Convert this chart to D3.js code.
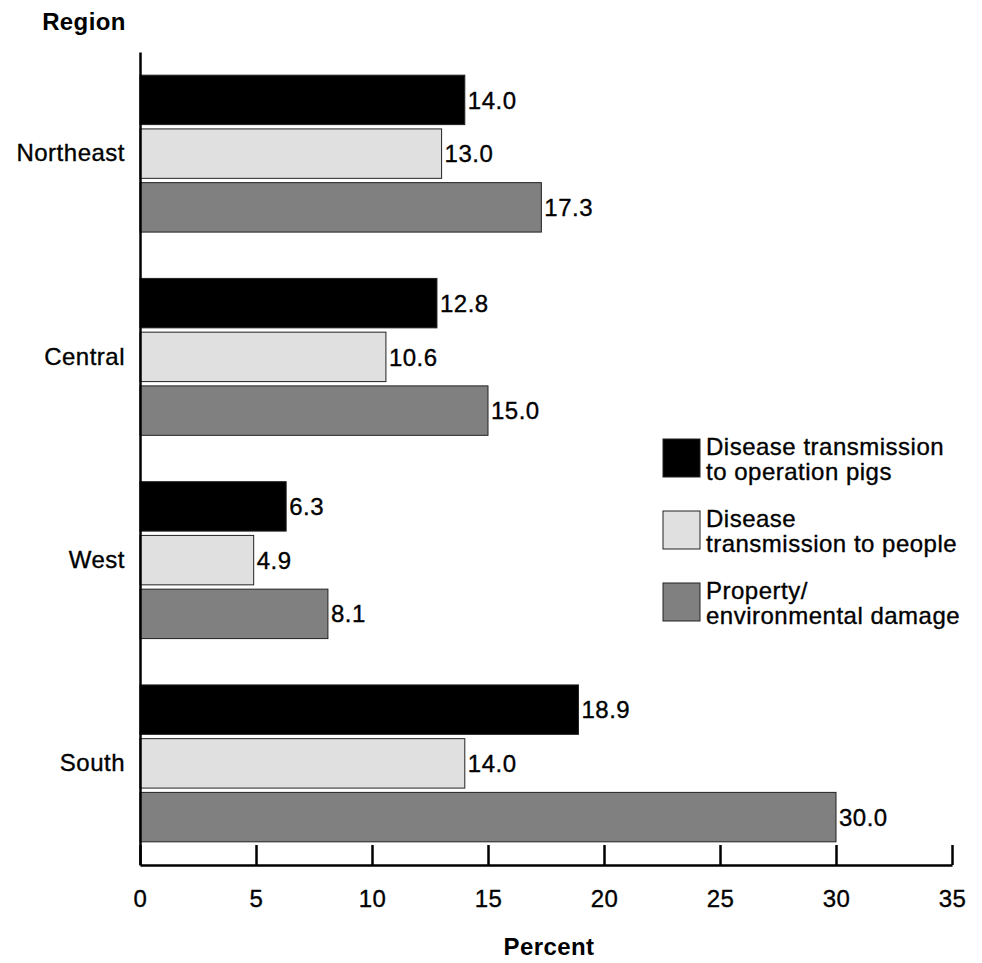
<!DOCTYPE html>
<html>
<head>
<meta charset="utf-8">
<script src="https://cdn.jsdelivr.net/npm/d3@7/dist/d3.min.js"></script>
<style>
  html, body { margin: 0; padding: 0; background: #fff; }
  svg { display: block; font-family: "Liberation Sans", Arial, sans-serif; }
  .lbl { font-size: 24px; letter-spacing: 0.5px; fill: #000; stroke: #000; stroke-width: 0.35px; }
  .title { font-size: 24px; font-weight: bold; letter-spacing: 0.4px; fill: #000; }
</style>
</head>
<body>
<svg id="chart" width="982" height="963"></svg>
<script>
// Regions and the share of operations (percent) reporting each concern
const regions = ["Northeast", "Central", "West", "South"];
const seriesNames = ["Disease transmission to operation pigs", "Disease transmission to people", "Property/ environmental damage"];
const seriesLegendLines = [
  ["Disease transmission", "to operation pigs"],
  ["Disease", "transmission to people"],
  ["Property/", "environmental damage"]
];
const pigsValues = [14.0, 12.8, 6.3, 18.9];
const peopleValues = [13.0, 10.6, 4.9, 14.0];
const propertyValues = [17.3, 15.0, 8.1, 30.0];
const xTicks = [0, 5, 10, 15, 20, 25, 30, 35];
const seriesColors = ["#000000", "#e0e0e0", "#808080"];

const seriesValues = [pigsValues, peopleValues, propertyValues];
const rows = regions.map((r, i) => ({
  region: r,
  values: seriesValues.map((vals, s) => ({ series: s, value: vals[i] }))
}));

const svg = d3.select("#chart");
const plotLeft = 140, plotRight = 952, plotTop = 52, plotBottom = 865;

const x = d3.scaleLinear().domain([0, 35]).range([plotLeft, plotRight]);
const y = d3.scaleBand().domain(regions).range([plotTop, plotBottom])
  .paddingInner(0.228).paddingOuter(0.114);
const ySub = d3.scaleBand().domain(d3.range(seriesValues.length))
  .range([0, y.bandwidth()]).paddingInner(0.08);

// Bars
const groups = svg.append("g").selectAll("g")
  .data(rows).join("g")
  .attr("transform", d => `translate(0,${y(d.region)})`);

groups.selectAll("rect")
  .data(d => d.values).join("rect")
  .attr("x", x(0))
  .attr("y", d => ySub(d.series))
  .attr("width", d => x(d.value) - x(0))
  .attr("height", ySub.bandwidth())
  .attr("fill", d => seriesColors[d.series])
  .attr("stroke", "#222")
  .attr("stroke-width", 1);

// Value labels at the end of each bar
groups.selectAll("text")
  .data(d => d.values).join("text")
  .attr("class", "lbl")
  .attr("x", d => x(d.value) + 3)
  .attr("y", d => ySub(d.series) + ySub.bandwidth() / 2)
  .attr("dy", "0.36em")
  .text(d => d3.format(".1f")(d.value));

// Bottom axis: ticks pointing inward
const xAxis = d3.axisBottom(x).tickValues(xTicks).tickSizeInner(-20).tickSizeOuter(0).tickPadding(0).tickFormat(d3.format("d"));
const gx = svg.append("g").attr("transform", `translate(0,${plotBottom})`).call(xAxis);
gx.select(".domain").attr("stroke", "#000").attr("stroke-width", 2.5);
gx.selectAll(".tick line").attr("stroke", "#000").attr("stroke-width", 2.5);
gx.selectAll(".tick text")
  .attr("class", "lbl")
  .attr("y", 33)
  .attr("dy", "0.36em")
  .attr("font-size", null)
  .attr("font-family", null)
  .attr("fill", null);

// Left axis: line with category labels, no tick marks
const yAxis = d3.axisLeft(y).tickSize(0).tickPadding(15);
const gy = svg.append("g").attr("transform", `translate(${plotLeft},0)`).call(yAxis);
gy.select(".domain").attr("stroke", "#000").attr("stroke-width", 2.5);
gy.selectAll(".tick text")
  .attr("class", "lbl")
  .attr("font-size", null)
  .attr("font-family", null)
  .attr("fill", null);

// Axis titles
svg.append("text")
  .attr("class", "title")
  .attr("x", 84).attr("y", 21).attr("dy", "0.36em")
  .attr("text-anchor", "middle")
  .text("Region");

svg.append("text")
  .attr("class", "title")
  .attr("x", 549).attr("y", 946).attr("dy", "0.36em")
  .attr("text-anchor", "middle")
  .text("Percent");

// Legend
const legend = svg.append("g").selectAll("g")
  .data(seriesNames).join("g")
  .attr("transform", (d, i) => `translate(663,${439 + i * 72})`);

legend.append("rect")
  .attr("width", 37).attr("height", 38)
  .attr("fill", (d, i) => seriesColors[i])
  .attr("stroke", "#222").attr("stroke-width", 1);

legend.append("text")
  .attr("class", "lbl")
  .selectAll("tspan")
  .data((d, i) => seriesLegendLines[i]).join("tspan")
  .attr("x", 43)
  .attr("y", (d, j) => 7 + j * 25)
  .attr("dy", "0.36em")
  .text(d => d);
</script>
</body>
</html>
